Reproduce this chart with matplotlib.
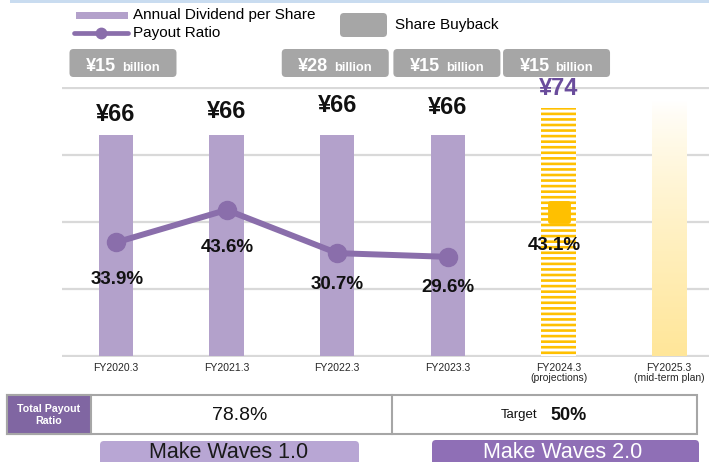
import numpy as np
import matplotlib
matplotlib.use('Agg')
import matplotlib.pyplot as plt
from matplotlib.patches import FancyBboxPatch, Rectangle
from matplotlib.colors import LinearSegmentedColormap
from matplotlib.markers import MarkerStyle

plt.rcParams['font.family'] = ['Liberation Sans', 'DejaVu Sans']
plt.rcParams['hatch.linewidth'] = 1.9

# data
years = ['FY2020.3', 'FY2021.3', 'FY2022.3', 'FY2023.3',
         'FY2024.3\n(projections)', 'FY2025.3\n(mid-term plan)']
dividend = [66, 66, 66, 66, 74]          # yen per share, FY2024.3 = forecast
plan_height = 76                         # FY2025.3 plan bar (no value shown)
payout = [33.9, 43.6, 30.7, 29.6, 43.1]  # %
buyback_idx = [0, 2, 3, 4]
buyback = [15, 28, 15, 15]               # billion yen
total_payout = '78.8%'
target_payout = '50%'

# colours
bar_c = '#B3A1CB'
line_c = '#8A6EAB'
hdr_c = '#8066A2'
gold = '#FFC000'
grey_box = '#A6A6A6'

W, H = 709, 462
fig = plt.figure(figsize=(W / 100, H / 100), dpi=100)
ov = fig.add_axes([0, 0, 1, 1], zorder=0)
ov.set_xlim(0, W)
ov.set_ylim(H, 0)
ov.axis('off')

ax = fig.add_axes([62 / W, (H - 357) / H, 647 / W, 270 / H], zorder=1)
ax.patch.set_visible(False)

x = np.arange(len(years))
bw = 0.31
ax.bar(x[:4], dividend[:4], width=bw, color=bar_c, zorder=2)
ax.bar(x[4], dividend[4], width=bw, facecolor='white', edgecolor=gold,
       hatch='---', lw=0, zorder=2)

# plan bar with fading gradient
pb = ax.bar(x[5], plan_height, width=bw, color='none', lw=0)[0]
cm = LinearSegmentedColormap.from_list('plan', ['#FFFFFF', '#FFF3CC', '#FFE699'])
grad = np.linspace(1, 0, 256)[:, None] ** 0.8
im = ax.imshow(grad, extent=(x[5] - bw / 2, x[5] + bw / 2, 0, plan_height),
               cmap=cm, aspect='auto', origin='lower', zorder=2)
im.set_clip_path(pb)

ax.plot(x[:4], payout[:4], color=line_c, lw=4.3, marker='o', ms=13, zorder=3)
ax.plot(x[4], payout[4], ls='none', marker=MarkerStyle('s', joinstyle='round'),
        ms=13.5, mew=3.5, color=gold, zorder=3)

pct_dy = [-37, -38, -31, -31, -34]
pct_dx = [1, 1, 0, 0, -4]
for i, v in enumerate(payout):
    ax.annotate(f'{v:.1f}%', (x[i], v), xytext=(pct_dx[i] * 0.72, pct_dy[i] * 0.72),
                textcoords='offset points', ha='center', va='center',
                fontsize=13.5, weight='bold', color='#111111', zorder=4)

div_dy = [20, 23, 29, 27, 20]
for i, v in enumerate(dividend):
    ax.annotate(f'¥{v}', (x[i], v), xytext=(0, div_dy[i] * 0.72),
                textcoords='offset points', ha='center', va='center',
                fontsize=17, weight='bold', annotation_clip=False,
                color='#6A4C9C' if i == 4 else '#111111', zorder=4)

ax.set_xlim(-0.488, 5.36)
ax.set_ylim(-0.3, 80.3)
ax.set_yticks([0, 20, 40, 60, 80])
ax.yaxis.grid(True, color='#D9D9D9', lw=1.6)
ax.set_axisbelow(True)
ax.tick_params(axis='y', left=False, labelleft=False)
ax.set_xticks(x, years)
ax.tick_params(axis='x', length=0, pad=4, labelsize=7.5, labelcolor='#262626')
for lbl in ax.get_xticklabels():
    lbl.set_linespacing(1.1)
for s in ax.spines.values():
    s.set_visible(False)

# top strip
ov.add_patch(Rectangle((10, 0), W - 10, 3, color='#C9DCF0', lw=0))

# legend
ov.add_patch(Rectangle((76, 12), 52, 7, color=bar_c, lw=0))
ov.plot([74, 128], [33, 33], color=line_c, lw=3.4, solid_capstyle='round')
ov.plot([101], [33], 'o', color=line_c, ms=7.5)
ov.text(133, 15, 'Annual Dividend per Share', va='center', fontsize=11)
ov.text(133, 33, 'Payout Ratio', va='center', fontsize=11)
ov.add_patch(FancyBboxPatch((340, 13), 47, 24, boxstyle='round,pad=0,rounding_size=4',
                            fc=grey_box, ec='none'))
ov.text(395, 25, 'Share Buyback', va='center', fontsize=11)

# buyback boxes above the bars
bb_dx = [7, -2, -1, -2]
for k, (i, v) in enumerate(zip(buyback_idx, buyback)):
    cx = ax.transData.transform((x[i], 0))[0] + bb_dx[k]
    top = 49
    ov.add_patch(FancyBboxPatch((cx - 53.5, top), 107, 28,
                                boxstyle='round,pad=0,rounding_size=4',
                                fc=grey_box, ec='none'))
    ov.text(cx - 7, top + 22, f'¥{v}', ha='right', va='baseline',
            fontsize=13, weight='bold', color='white')
    ov.text(cx - 1, top + 22, 'billion', ha='left', va='baseline',
            fontsize=9.3, weight='bold', color='white')

# total payout ratio table
edge = '#A6A6A6'
ov.add_patch(Rectangle((7, 395), 690, 39, fc='white', ec=edge, lw=1.5))
ov.add_patch(Rectangle((7, 395), 84, 39, fc=hdr_c, ec=edge, lw=1.5))
ov.plot([392, 392], [395, 434], color=edge, lw=1.5)
ov.text(49, 415, 'Total Payout\nRatio', ha='center', va='center', fontsize=7.7,
        weight='bold', color='white', linespacing=1.25)

ov.text(240, 415, total_payout, ha='center', va='center',
        fontsize=14, color='#111111')
ov.text(519, 415, 'Target', ha='center', va='center',
        fontsize=9.5, color='#111111')
ov.text(569, 415, target_payout, ha='center', va='center',
        fontsize=13, weight='bold', color='#111111')

# plan phases
ov.add_patch(FancyBboxPatch((100, 441), 259, 30, boxstyle='round,pad=0,rounding_size=4',
                            fc='#B8A6D4', ec='none'))
ov.add_patch(FancyBboxPatch((432, 440), 267, 31, boxstyle='round,pad=0,rounding_size=4',
                            fc='#8F6FB6', ec='none'))
ov.text(229, 452, 'Make Waves 1.0', ha='center', va='center',
        fontsize=15.5, color='#1A1A1A')
ov.text(563, 452, 'Make Waves 2.0', ha='center', va='center',
        fontsize=15.5, color='white')

fig.savefig('out.png', dpi=100)
